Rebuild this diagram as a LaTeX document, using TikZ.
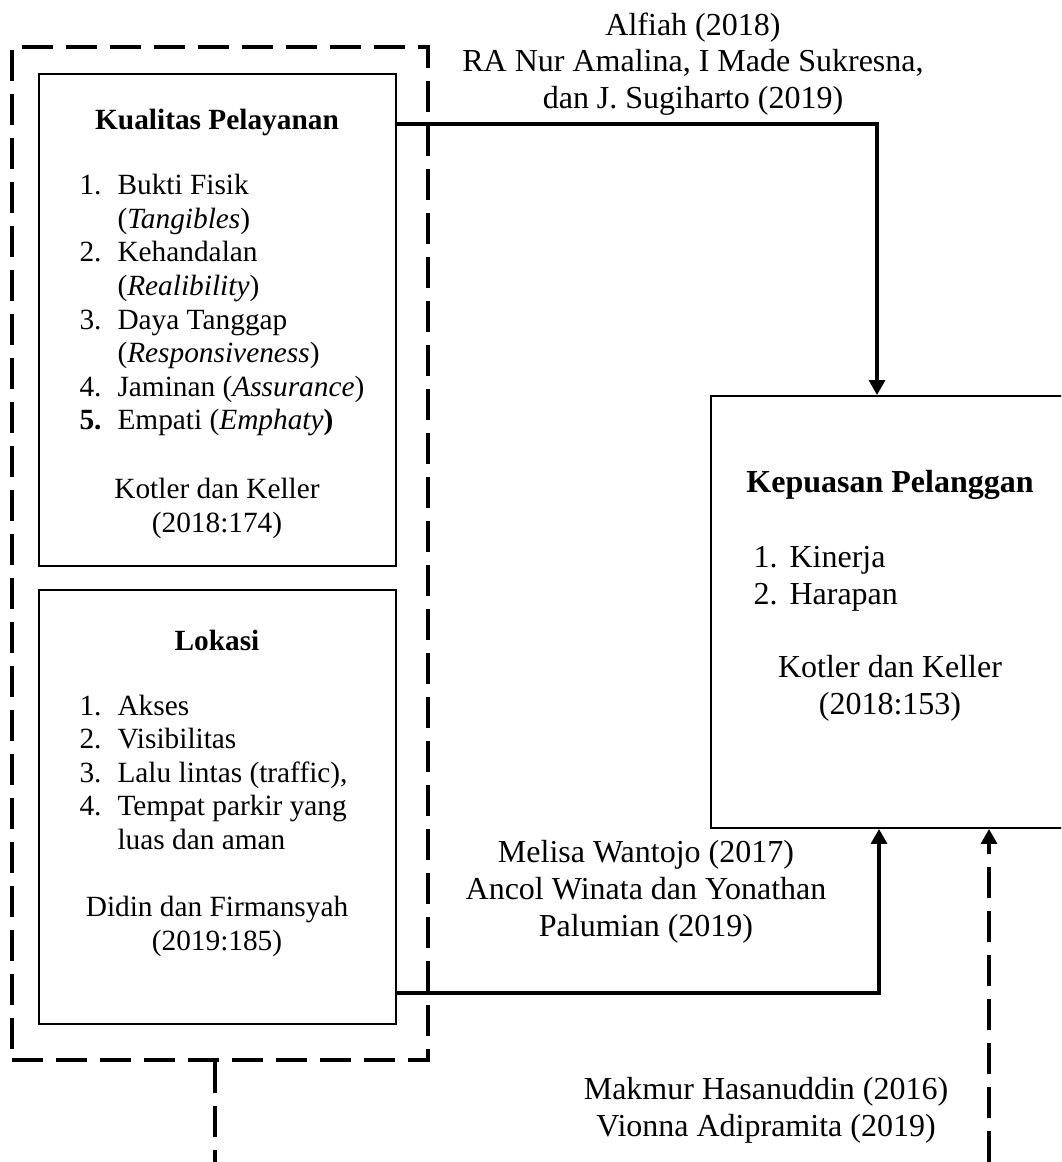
\documentclass[tikz,border=0pt]{standalone}
\usepackage{fontspec}
\setmainfont{Liberation Serif}
\usetikzlibrary{arrows.meta,fit}
\tikzset{
  box/.style={draw, line width=0.75pt, inner sep=0pt},
  conn/.style={line width=1.2pt, -{Triangle[length=5.6pt,width=6pt]}},
  dline/.style={line width=1.2pt, dash pattern=on 11.6pt off 4.9pt},
  fsmall/.style={font=\fontsize{11}{12.6}\selectfont},
  fbig/.style={font=\fontsize{12}{13.8}\selectfont},
  lbl/.style={fbig, align=center, inner sep=0pt},
  slbl/.style={fsmall, align=center, inner sep=0pt},
  lst/.style={anchor=west, inner sep=0pt},
}
\begin{document}
\begin{tikzpicture}[x=0.375pt,y=-0.375pt]
\useasboundingbox (0,0) rectangle (1061,1162);
\begin{scope}
\clip (0,0) rectangle (1061,1162);
% coordinates
\coordinate (t1) at (877,124);
\coordinate (t2) at (879,993);
\coordinate (b1) at (215,1162);
\coordinate (b2) at (989,1162);

% outer dashed group
\node[dline, draw, inner sep=0pt, fit={(12,47) (428,1060)}] (outer) {};

% Kualitas Pelayanan box
\node[box, fit={(39,74) (396,566)}] (kq) {};
\node[fsmall, font=\fontsize{11}{12.6}\selectfont\bfseries, inner sep=0pt] (kqt) at (217,122) {Kualitas Pelayanan};
\node[fsmall, lst] (kqlist) at (79,305.5) {\begin{tabular}{@{}p{14.25pt}@{}l@{}}
1. & Bukti Fisik\\
 & (\textit{Tangibles})\\
2. & Kehandalan\\
 & (\textit{Realibility})\\
3. & Daya Tanggap\\
 & (\textit{Responsiveness})\\
4. & Jaminan (\textit{Assurance})\\
\textbf{5.} & Empati (\textit{Emphaty}\textbf{)}
\end{tabular}};
\node[slbl] (kqc) at (217,508.5) {Kotler dan Keller\\(2018:174)};

% Lokasi box
\node[box, fit={(39,590) (396,1024)}] (kl) {};
\node[fsmall, font=\fontsize{11}{12.6}\selectfont\bfseries, inner sep=0pt] (klt) at (217,640) {Lokasi};
\node[fsmall, lst] (kllist) at (79,775.5) {\begin{tabular}{@{}p{14.25pt}@{}l@{}}
1. & Akses\\
2. & Visibilitas\\
3. & Lalu lintas (traffic),\\
4. & Tempat parkir yang\\
 & luas dan aman
\end{tabular}};
\node[slbl] (klc) at (217,926.5) {Didin dan Firmansyah\\(2019:185)};

% Kepuasan Pelanggan box
\node[box, fit={(711,396) (1110,828)}] (kp) {};
\node[fbig, font=\fontsize{12}{13.8}\selectfont\bfseries, inner sep=0pt] (kpt) at (890,485) {Kepuasan Pelanggan};
\node[fbig, lst] (kplist) at (753,578.5) {\begin{tabular}{@{}p{13.5pt}@{}l@{}}
1. & Kinerja\\
2. & Harapan
\end{tabular}};
\node[lbl] (kpc) at (890,688.5) {Kotler dan Keller\\(2018:153)};

% connector labels
\node[lbl] (lt) at (693,64) {Alfiah (2018)\\RA Nur Amalina, I Made Sukresna,\\dan J. Sugiharto (2019)};
\node[lbl] (lm) at (646,892) {Melisa Wantojo (2017)\\Ancol Winata dan Yonathan\\Palumian (2019)};
\node[lbl] (lb) at (766,1110) {Makmur Hasanuddin (2016)\\Vionna Adipramita (2019)};

% connectors
\draw[conn] (kq.east |- t1) -- (t1) -- (t1 |- kp.north);
\draw[conn] (kl.east |- t2) -- (t2) -- (t2 |- kp.south);
\draw[dline] (outer.south -| b1) -- (b1);
\draw[dline, -{Triangle[length=5.6pt,width=6pt]}] (b2) -- (b2 |- kp.south);
\end{scope}
\end{tikzpicture}
\end{document}
